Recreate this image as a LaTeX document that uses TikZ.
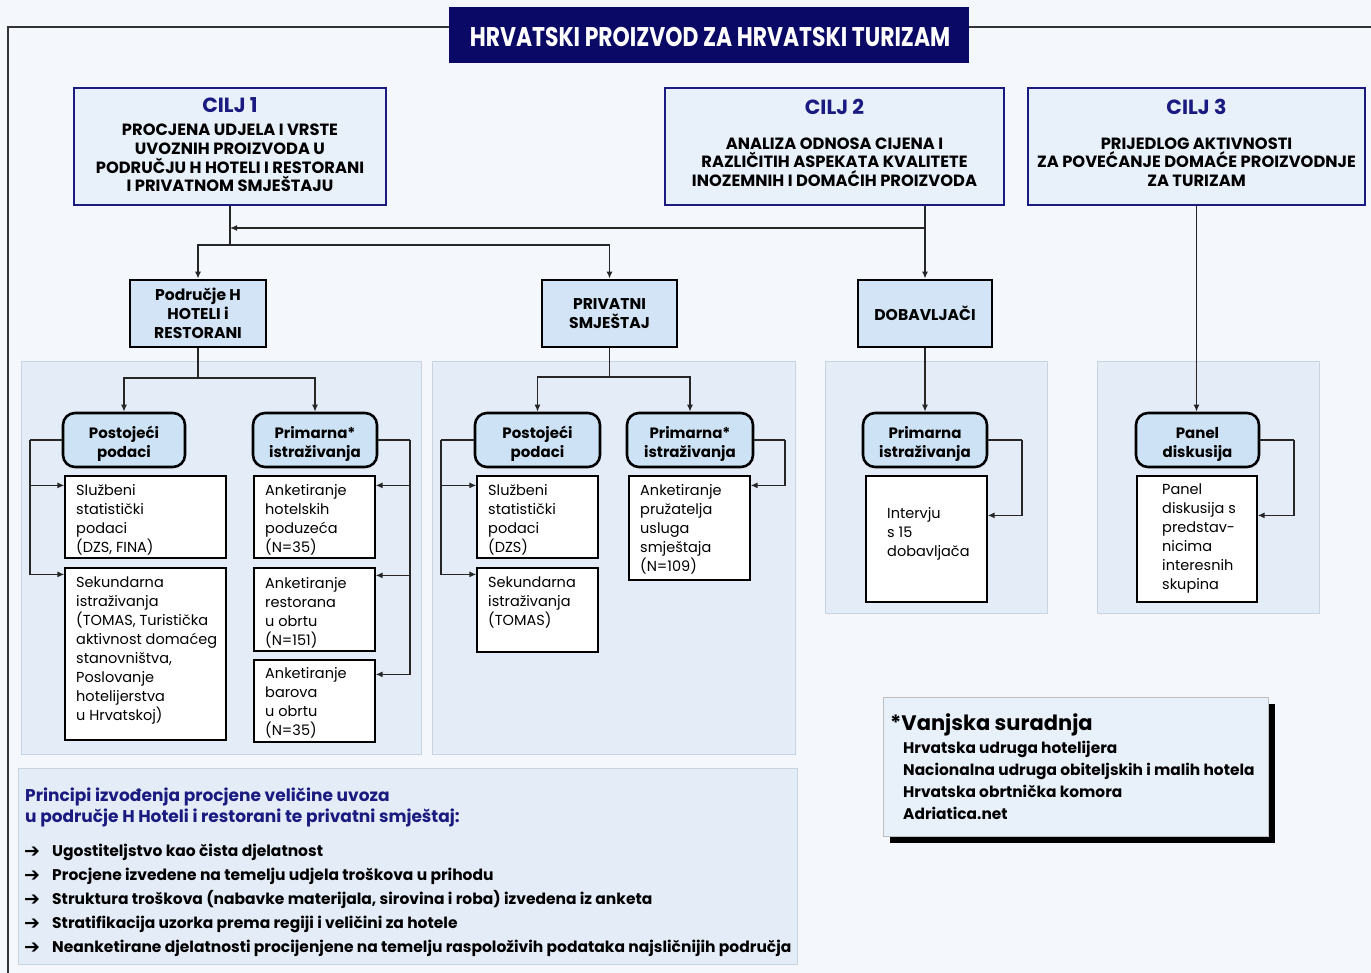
\documentclass[tikz,border=0pt]{standalone}
\usepackage{fontspec}
\usepackage{graphicx}
\setmainfont{Poppins}
\newfontfamily\djv{DejaVu Sans}
\usetikzlibrary{arrows.meta,calc}
\definecolor{bg}{HTML}{F4F7FB}
\definecolor{panel}{HTML}{E4EDF7}
\definecolor{panelline}{HTML}{C8D4E2}
\definecolor{navy}{HTML}{1A1A80}
\definecolor{titlebg}{HTML}{0A0A66}
\definecolor{ciljfill}{HTML}{E8F0FA}
\definecolor{lvfill}{HTML}{D2E4F5}
\definecolor{pillfill}{HTML}{CDE2F4}
\newcommand{\pstr}{\rule{0pt}{19pt}}
\newcommand{\barr}{\makebox[28pt][l]{\raisebox{-1pt}{\djv\fontsize{19}{19}\selectfont ➔}}}
\begin{document}
\begin{tikzpicture}[x=1pt,y=-1pt,
 conn/.style={line width=1.3pt, draw=black!85},
 arr/.style={conn,-{Latex[length=7pt,width=6pt]}},
 panelbox/.style={fill=panel, draw=panelline, line width=0.8pt},
 ciljbox/.style={draw=navy, fill=ciljfill, line width=2.6pt, inner sep=0},
 ciljtitle/.style={inner sep=0, text=navy, font=\fontsize{20.5}{20.5}\selectfont\bfseries},
 ciljtxt/.style={inner sep=0, align=center, font=\fontsize{16.3}{18.7}\selectfont\bfseries},
 lvbox/.style={draw=black, fill=lvfill, line width=2.8pt, inner sep=0, align=center, font=\fontsize{15.6}{19}\selectfont\bfseries},
 pill/.style={draw=black, fill=pillfill, line width=2.6pt, rounded corners=12pt, inner sep=0, align=center, font=\fontsize{15}{19}\selectfont\bfseries},
 wbox/.style={draw=black, fill=white, line width=1.2pt, inner sep=0},
 btxt/.style={inner sep=0, anchor=north west, align=left, font=\fontsize{14.5}{19}\selectfont},
 bullet/.style={inner sep=0, anchor=base west, font=\fontsize{15.5}{19}\selectfont\bfseries},
 head/.style={inner sep=0, anchor=base west, text=navy, font=\fontsize{17}{19}\selectfont\bfseries},
]
\useasboundingbox (0,0) rectangle (1371,973);
\fill[bg] (0,0) rectangle (1371,973);

% panels
\draw[panelbox] (21,361) rectangle (421,754);
\draw[panelbox] (432,361) rectangle (795,754);
\draw[panelbox] (825,361) rectangle (1047,613);
\draw[panelbox] (1097,361) rectangle (1319,613);
\draw[panelbox] (18,768) rectangle (797,964);

% title and frame
\node[fill=titlebg, minimum width=520pt, minimum height=56pt, inner sep=0] (title) at (709,35) {};
\node[inner sep=0, text=white] (titlet) at (710,37) {\scalebox{0.81}[1]{\fontsize{27}{27}\selectfont\bfseries HRVATSKI PROIZVOD ZA HRVATSKI TURIZAM}};
\coordinate (ftop) at (8,27);
\coordinate (fbot) at (8,973);
\coordinate (fright) at (1371,27);
\draw[line width=1.6pt, black!80] (ftop -| title.west) -- (ftop) -- (fbot);
\draw[line width=1.6pt, black!80] (ftop -| title.east) -- (fright);

% CILJ boxes
\node[ciljbox, minimum width=312pt, minimum height=117pt] (c1) at (230,146.5) {};
\node[ciljtitle] (c1t) at (230,105) {CILJ 1};
\node[ciljtxt] (c1b) at (230,158) {PROCJENA UDJELA I VRSTE\\UVOZNIH PROIZVODA U\\PODRUČJU H HOTELI I RESTORANI\\I PRIVATNOM SMJEŠTAJU};
\node[ciljbox, minimum width=339pt, minimum height=117pt] (c2) at (834.5,146.5) {};
\node[ciljtitle] (c2t) at (834.5,107) {CILJ 2};
\node[ciljtxt] (c2b) at (834.5,162) {ANALIZA ODNOSA CIJENA I\\RAZLIČITIH ASPEKATA KVALITETE\\INOZEMNIH I DOMAĆIH PROIZVODA};
\node[ciljbox, minimum width=337pt, minimum height=117pt] (c3) at (1196.5,146.5) {};
\node[ciljtitle] (c3t) at (1196.5,107) {CILJ 3};
\node[ciljtxt] (c3b) at (1196.5,162) {PRIJEDLOG AKTIVNOSTI\\ZA POVEĆANJE DOMAĆE PROIZVODNJE\\ZA TURIZAM};

% level 2
\node[lvbox, minimum width=136pt, minimum height=67pt] (ph) at (198,313.5) {Područje H\\HOTELI i\\RESTORANI};
\node[lvbox, minimum width=135pt, minimum height=67pt] (pv) at (609.5,313.5) {PRIVATNI\\SMJEŠTAJ};
\node[lvbox, minimum width=134pt, minimum height=67pt] (dob) at (925,313.5) {DOBAVLJAČI};

% top connectors
\coordinate (j1) at (230,245);
\coordinate (hl) at (230,228);
\draw[conn] (c1.south) -- (j1);
\draw[arr] (j1) -| (ph.north);
\draw[arr] (j1) -| (pv.north);
\draw[arr] (dob.north |- hl) -- (hl);
\draw[arr] (dob.north |- c2.south) -- (dob.north);

% pills
\node[pill, minimum width=122pt, minimum height=54pt] (p1a) at (124,440) {\pstr Postojeći\\podaci};
\node[pill, minimum width=124pt, minimum height=54pt] (p1b) at (315,440) {\pstr Primarna*\\istraživanja};
\node[pill, minimum width=125pt, minimum height=54pt] (p2a) at (537.5,440) {\pstr Postojeći\\podaci};
\node[pill, minimum width=126pt, minimum height=54pt] (p2b) at (690,440) {\pstr Primarna*\\istraživanja};
\node[pill, minimum width=124pt, minimum height=54pt] (p3) at (925,440) {\pstr Primarna\\istraživanja};
\node[pill, minimum width=123pt, minimum height=54pt] (pd) at (1197.5,440) {\pstr Panel\\diskusija};
\draw[arr] (c3.south) -- (c3.south |- pd.north);

% white boxes
\node[wbox, minimum width=161pt, minimum height=82pt] (sl1) at (145.5,517) {};
\node[wbox, minimum width=161pt, minimum height=172pt] (sk1) at (145.5,654) {};
\node[wbox, minimum width=121pt, minimum height=82pt] (a1) at (314.5,517) {};
\node[wbox, minimum width=121pt, minimum height=83pt] (a2) at (314.5,609.5) {};
\node[wbox, minimum width=121pt, minimum height=82pt] (a3) at (314.5,701) {};
\node[wbox, minimum width=121pt, minimum height=82pt] (sl2) at (537.5,517) {};
\node[wbox, minimum width=121pt, minimum height=84pt] (sk2) at (537.5,610) {};
\node[wbox, minimum width=121pt, minimum height=104pt] (pr2) at (689.5,528) {};
\node[wbox, minimum width=121pt, minimum height=126pt] (iv) at (926.5,539) {};
\node[wbox, minimum width=120pt, minimum height=126pt] (pb) at (1197,539) {};

\node[btxt] (sl1t) at (76,484) {Službeni\\statistički\\podaci\\(DZS, FINA)};
\node[btxt] (sk1t) at (76,577) {Sekundarna\\istraživanja\\(TOMAS, Turistička\\aktivnost domaćeg\\stanovništva,\\Poslovanje\\hotelijerstva\\u Hrvatskoj)};
\node[btxt] (a1t) at (265,484) {Anketiranje\\hotelskih\\poduzeća\\(N=35)};
\node[btxt] (a2t) at (265,577) {Anketiranje\\restorana\\u obrtu\\(N=151)};
\node[btxt] (a3t) at (265,667) {Anketiranje\\barova\\u obrtu\\(N=35)};
\node[btxt] (sl2t) at (488,484) {Službeni\\statistički\\podaci\\(DZS)};
\node[btxt] (sk2t) at (488,577) {Sekundarna\\istraživanja\\(TOMAS)};
\node[btxt] (pr2t) at (640,484) {Anketiranje\\pružatelja\\usluga\\smještaja\\(N=109)};
\node[btxt] (ivt) at (887,507) {Intervju\\s 15\\dobavljača};
\node[btxt] (pbt) at (1162,484) {Panel\\diskusija s\\predstav-\\nicima\\interesnih\\skupina};

% panel connectors
\coordinate (jp1) at (198,378);
\draw[conn] (ph.south) -- (jp1);
\draw[arr] (jp1) -| (p1a.north);
\draw[arr] (jp1) -| (p1b.north);
\coordinate (jp2) at (609.5,377);
\draw[conn] (pv.south) -- (jp2);
\draw[arr] (jp2) -| (p2a.north);
\draw[arr] (jp2) -| (p2b.north);
\draw[arr] (dob.south) -- (p3.north);

\coordinate (lb1) at (30,440);
\draw[conn] (p1a.west) -- (lb1);
\draw[arr] (lb1) |- ($(sl1.north west)+(0,10)$);
\draw[arr] (lb1) |- ($(sk1.north west)+(0,7)$);
\coordinate (rb1) at (410,440);
\draw[conn] (p1b.east) -- (rb1);
\draw[arr] (rb1) |- ($(a1.north east)+(0,10)$);
\draw[arr] (rb1) |- ($(a2.north east)+(0,8)$);
\draw[arr] (rb1) |- ($(a3.north east)+(0,15)$);
\coordinate (lb2) at (441,440);
\draw[conn] (p2a.west) -- (lb2);
\draw[arr] (lb2) |- ($(sl2.north west)+(0,10)$);
\draw[arr] (lb2) |- ($(sk2.north west)+(0,7)$);
\coordinate (rb2) at (785,440);
\draw[conn] (p2b.east) -- (rb2);
\draw[arr] (rb2) |- ($(pr2.north east)+(0,10)$);
\coordinate (rb3) at (1022,440);
\draw[conn] (p3.east) -- (rb3);
\draw[arr] (rb3) |- ($(iv.north east)+(0,40)$);
\coordinate (rb4) at (1294,440);
\draw[conn] (pd.east) -- (rb4);
\draw[arr] (rb4) |- ($(pb.north east)+(0,40)$);

% bottom panel text
\node[head] (h1) at (25,801) {Principi izvođenja procjene veličine uvoza};
\node[head] (h2) at (25,822) {u područje H Hoteli i restorani te privatni smještaj:};
\node[bullet] (b1) at (24,856) {\barr Ugostiteljstvo kao čista djelatnost};
\node[bullet] (b2) at (24,880) {\barr Procjene izvedene na temelju udjela troškova u prihodu};
\node[bullet] (b3) at (24,904) {\barr Struktura troškova (nabavke materijala, sirovina i roba) izvedena iz anketa};
\node[bullet] (b4) at (24,928) {\barr Stratifikacija uzorka prema regiji i veličini za hotele};
\node[bullet] (b5) at (24,952) {\barr Neanketirane djelatnosti procijenjene na temelju raspoloživih podataka najsličnijih područja};

% Vanjska suradnja
\fill[black] (890,704) rectangle (1275,843);
\draw[fill=ciljfill, draw=black!25, line width=0.8pt] (883,697) rectangle (1268,836);
\node[anchor=west, inner sep=0, font=\fontsize{21}{21}\selectfont\bfseries] (vt) at (890,725) {*Vanjska suradnja};
\node[anchor=north west, inner sep=0, align=left, font=\fontsize{15.4}{22}\selectfont\bfseries] (vl) at (903,741) {Hrvatska udruga hotelijera\\Nacionalna udruga obiteljskih i malih hotela\\Hrvatska obrtnička komora\\Adriatica.net};
\end{tikzpicture}
\end{document}
